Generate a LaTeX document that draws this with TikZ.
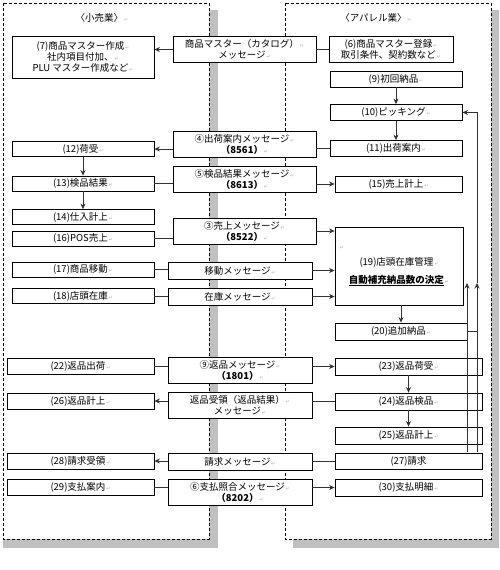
\documentclass[tikz,border=0pt]{standalone}
\usepackage{fontspec}
\setmainfont{Noto Sans CJK JP}
\newfontfamily\symfont{DejaVu Sans}
\usetikzlibrary{arrows.meta}
\definecolor{shadowgray}{RGB}{192,192,192}
\definecolor{linegray}{RGB}{50,50,50}
\newcommand\ret{{\symfont\fontsize{5}{5}\selectfont\color{gray!60}\,↵}}
\newcommand\msgno[1]{{\bfseries （#1）}}

\tikzset{%
  every box/.style={
    draw,
    fill=white,
    line width=0.8pt,
    inner sep=0pt,
    align=center,
    font=\fontsize{9.5}{11}\selectfont
  },
  lbox/.style={every box, minimum width=142pt, minimum height=15pt},
  mbox/.style={every box, minimum width=143pt, minimum height=26pt},
  rbox/.style={every box, minimum width=147pt, minimum height=17pt},
  frame/.style={draw, dash pattern=on 3pt off 2pt, line width=0.8pt},
  link/.style={draw=linegray, line width=0.8pt},
}

\begin{document}
\begin{tikzpicture}[x=1pt, y=-1pt, >={Stealth[length=5.5pt, width=5pt]}]
    \useasboundingbox (0,0) rectangle (500,570);

        % frames with shadows
        \fill [shadowgray] (3,10) rectangle (218,548);
        \fill [shadowgray] (293,10) rectangle (499,548);
        \draw [frame, fill=white] (3,3) rectangle (209,539);
        \draw [frame, fill=white] (285,3) rectangle (491,539);
        \node [font=\fontsize{9.5}{11}\selectfont] (retail) at (102,18) {〈小売業〉\ret};
        \node [font=\fontsize{9.5}{11}\selectfont] (apparel) at (376,18) {〈アパレル業〉\ret};

        % retail side
        \node [lbox, minimum height=42pt] (n7) at (83,57)
          {(7)商品マスター作成\ret\\社内項目付加、\ret\\PLU マスター作成など\ret};
        \foreach \n/\y/\t in {12/149/荷受, 13/183.5/検品結果, 14/217/仕入計上, 16/238.5/POS売上, 17/269.5/商品移動, 18/296/店頭在庫}
          \node [lbox] (n\n) at (83,\y) {(\n)\t\ret};
        \foreach \n/\y/\t in {22/366.5/返品出荷, 26/401/返品計上, 28/461/請求受領, 29/487.5/支払案内}
          \node [lbox, minimum width=147pt, minimum height=16pt] (n\n) at (80.5,\y) {(\n)\t\ret};

        % messages
        \node [mbox] (msgMaster) at (244.5,49.5) {商品マスター（カタログ）\ret\\メッセージ\ret};
        \foreach \m/\y/\t/\c in {4/144/④出荷案内/8561, 5/179.5/⑤検品結果/8613, 3/231/③売上/8522}
          \node [mbox] (msg\m) at (244.5,\y) {\t メッセージ\ret\\\msgno{\c}\ret};
        \foreach \m/\y/\t in {Move/270.5/移動, Stock/296.5/在庫, Bill/461.5/請求}
          \node [mbox, minimum width=144pt, minimum height=17pt] (msg\m) at (240,\y) {\t メッセージ\ret};
        \foreach \m/\y/\t/\c in {9/370/⑨返品/1801, 6/492/⑥支払照合/8202}
          \node [mbox, minimum width=144pt] (msg\m) at (240,\y) {\t メッセージ\ret\\\msgno{\c}\ret};
        \node [mbox, minimum width=144pt] (msgRet) at (240,405) {返品受領（返品結果）\ret\\メッセージ\ret};

        % apparel side
        \node [rbox, minimum width=124pt, minimum height=26pt] (n6) at (391,49)
          {(6)商品マスター登録\ret\\取引条件、契約数など\ret};
        \foreach \n/\y/\t in {9/79/初回納品, 10/112.5/ピッキング, 11/148.5/出荷案内}
          \node [rbox, minimum width=132pt, minimum height=16pt] (n\n) at (396,\y) {(\n)\t\ret};
        \node [rbox, minimum width=127pt, minimum height=16pt] (n15) at (398.5,184) {(15)売上計上\ret};
        \node [rbox, minimum width=128pt, minimum height=78pt] (n19) at (399,266)
          {\makebox[120pt][l]{\ret}\\[5pt](19)店頭在庫管理\ret\\[7pt]\underline{\bfseries 自動補充納品数の決定}\ret};
        \node [rbox, minimum width=132pt] (n20) at (401,331.5) {(20)追加納品\ret};
        \foreach \n/\y/\t in {23/366.5/返品荷受, 24/401.5/返品検品, 25/435.5/返品計上, 30/487.5/支払明細}
          \node [rbox] (n\n) at (408.5,\y) {(\n)\t\ret};
        \node [rbox, minimum height=16pt] (n27) at (408.5,461) {(27)請求};

        % connectors
        \draw [link, ->] (msgMaster.west) -- (msgMaster.west -| n7.east);
        \draw [link] (n6.west) -- (n6.west -| msgMaster.east);
        \draw [link, ->] (n9) -- (n10);
        \draw [link, ->] (n10) -- (n11);
        \draw [link] (n11.west) -- (n11.west -| msg4.east);
        \draw [link, ->] (n12.east -| msg4.west) -- (n12.east);
        \draw [link, ->] (n12) -- (n13);
        \draw [link, ->] (n13) -- (n14);
        \draw [link] (n13.east) -- (n13.east -| msg5.west);
        \draw [link, ->] (n15.west -| msg5.east) -- (n15.west);
        \draw [link] (n16.east) -- (n16.east -| msg3.west);
        \draw [link, ->] (msg3.east) -- (msg3.east -| n19.west);
        \foreach \s/\m in {17/Move, 18/Stock} {
          \draw [link] (n\s.east) -- (n\s.east -| msg\m.west);
          \draw [link, ->] (msg\m.east) -- (msg\m.east -| n19.west);
        }
        \draw [link, ->] (n20.north |- n19.south) -- (n20.north);
        \draw [link] (n22.east) -- (n22.east -| msg9.west);
        \draw [link, ->] (n23.west -| msg9.east) -- (n23.west);
        \draw [link, ->] (n23) -- (n24);
        \draw [link, ->] (n24) -- (n25);
        \draw [link] (n24.west) -- (n24.west -| msgRet.east);
        \draw [link, ->] (n26.east -| msgRet.west) -- (n26.east);
        \draw [link] (n27.west) -- (n27.west -| msgBill.east);
        \draw [link, ->] (n28.east -| msgBill.west) -- (n28.east);
        \draw [link] (n29.east) -- (n29.east -| msg6.west);
        \draw [link, ->] (n30.west -| msg6.east) -- (n30.west);

        % feedback lines
        \coordinate (fbA) at (467,283);
        \coordinate (fbB) at (477,283);
        \draw [link, ->] ([yshift=1pt]n27.north -| fbA) -- (fbA);
        \draw [link, ->] ([yshift=1pt]n27.north -| fbB) -- (fbB);
        \draw [link, ->] (fbB) |- (n10.east);
        \draw [link] (n20.east) -- (n20.east -| fbB);
    \end{tikzpicture}
\end{document}
